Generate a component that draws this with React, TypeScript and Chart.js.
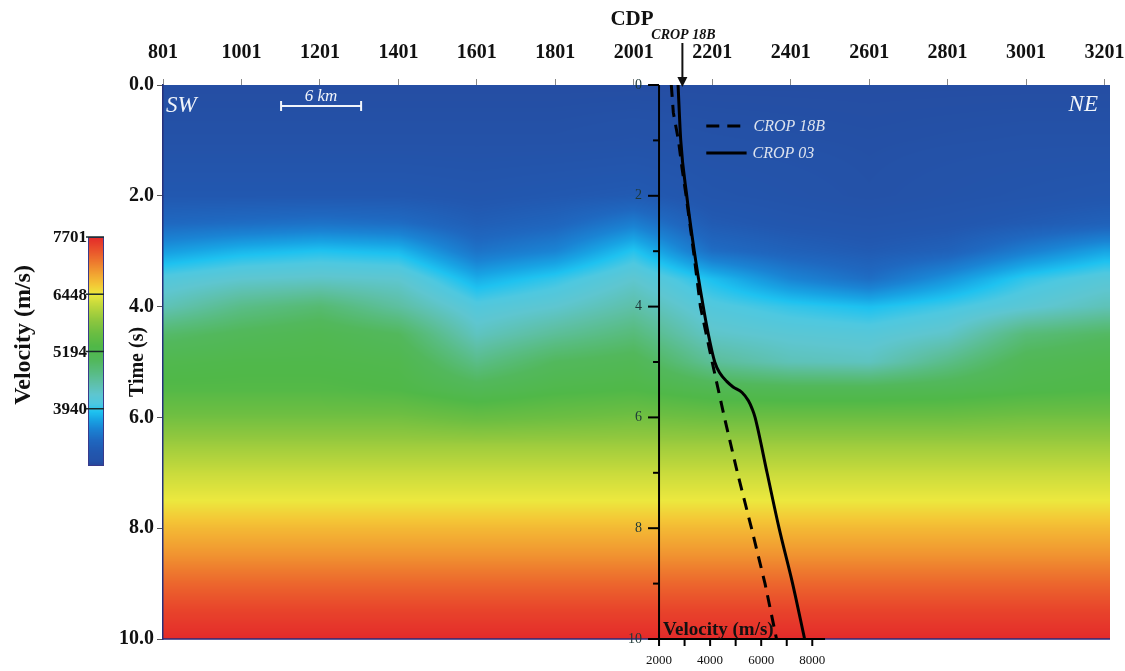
import React, { useEffect, useRef } from "react";
import { Chart, registerables } from "chart.js";

Chart.register(...registerables);

const SERIF = '"Liberation Serif", "DejaVu Serif", serif';

// ---- CDP / time axes ----
const CDP_TICKS = [801, 1001, 1201, 1401, 1601, 1801, 2001, 2201, 2401, 2601, 2801, 3001, 3201];
const CDP_MIN = 801;
const CDP_MAX = 3215;
const TIME_TICKS = [0, 2, 4, 6, 8, 10];

// ---- velocity field (m/s), one profile per CDP column, sampled at FIELD_TIMES (s) ----
const FIELD_TIMES = [0, 1, 2, 2.5, 3, 3.5, 4, 4.5, 5, 5.5, 6, 6.5, 7, 7.5, 8, 8.5, 9, 9.5, 10];
const FIELD_CDPS = [801, 1001, 1201, 1401, 1601, 1801, 2001, 2201, 2401, 2601, 2801, 3001, 3201];
const V_801 = [2760, 2800, 3000, 3250, 3650, 4100, 4400, 4900, 5200, 5350, 5650, 5980, 6250, 6450, 6750, 7000, 7280, 7520, 7700];
const V_1001 = [2760, 2800, 3000, 3300, 3800, 4250, 4700, 5050, 5250, 5350, 5650, 5980, 6250, 6450, 6750, 7000, 7280, 7520, 7700];
const V_1201 = [2760, 2800, 3000, 3350, 3880, 4300, 4850, 5150, 5250, 5350, 5650, 5980, 6250, 6450, 6750, 7000, 7280, 7520, 7700];
const V_1401 = [2760, 2800, 3000, 3300, 3820, 4250, 4550, 5000, 5200, 5300, 5650, 5980, 6250, 6450, 6750, 7000, 7280, 7520, 7700];
const V_1601 = [2760, 2800, 2950, 3100, 3350, 3750, 4100, 4350, 4700, 5100, 5550, 5980, 6250, 6450, 6750, 7000, 7280, 7520, 7700];
const V_1801 = [2760, 2800, 3000, 3200, 3500, 3950, 4250, 4600, 5000, 5250, 5600, 5980, 6250, 6450, 6750, 7000, 7280, 7520, 7700];
const V_2001 = [2760, 2820, 3050, 3450, 3900, 4250, 4500, 4800, 5100, 5300, 5650, 5980, 6250, 6450, 6750, 7000, 7280, 7520, 7700];
const V_2201 = [2760, 2800, 2900, 3050, 3300, 3850, 4100, 4300, 4600, 5150, 5600, 5980, 6250, 6450, 6750, 7000, 7280, 7520, 7700];
const V_2401 = [2760, 2790, 2850, 2950, 3150, 3500, 3950, 4200, 4400, 5100, 5600, 5980, 6250, 6450, 6750, 7000, 7280, 7520, 7700];
const V_2601 = [2760, 2780, 2800, 2900, 3050, 3300, 3850, 4150, 4350, 5100, 5600, 5980, 6250, 6450, 6750, 7000, 7280, 7520, 7700];
const V_2801 = [2760, 2790, 2850, 2950, 3150, 3600, 4000, 4300, 4700, 5150, 5600, 5980, 6250, 6450, 6750, 7000, 7280, 7520, 7700];
const V_3001 = [2760, 2800, 2900, 3050, 3450, 3950, 4200, 4800, 5100, 5250, 5650, 5980, 6250, 6450, 6750, 7000, 7280, 7520, 7700];
const V_3201 = [2760, 2800, 2950, 3150, 3700, 4150, 4400, 4950, 5200, 5300, 5650, 5980, 6250, 6450, 6750, 7000, 7280, 7520, 7700];
const FIELD = [V_801, V_1001, V_1201, V_1401, V_1601, V_1801, V_2001, V_2201, V_2401, V_2601, V_2801, V_3001, V_3201];

// ---- colour scale ----
const COLORBAR_MIN = 2686;
const COLORBAR_MAX = 7701;
const COLORBAR_TICKS = [3940, 5194, 6448, 7701];
const COLOR_STOPS_V = [2686, 2800, 3000, 3250, 3500, 3700, 3870, 4050, 4250, 4500, 4750, 5000, 5300, 5600, 5900, 6200, 6450, 6650, 6900, 7150, 7400, 7701];
const COLOR_STOPS_C = ["#26469a", "#2452a8", "#2258b0", "#1f68c0", "#1a84d4", "#18a4e4", "#1ec2f0", "#4ec8e0", "#5ec6d0", "#5ec0a8", "#58bc80", "#52b85c", "#50b848", "#6cbe42", "#92c83e", "#c0d83c", "#ece83e", "#f4c836", "#f2a232", "#ee7a2e", "#ea542c", "#e42a2a"];

// ---- velocity profiles (inset) ----
const T_18B = [0, 0.5, 1, 1.5, 2, 3, 4, 5, 6, 7, 8, 9, 10];
const V_18B = [2480, 2560, 2760, 2900, 3060, 3350, 3620, 4080, 4560, 5070, 5620, 6150, 6600];
const T_03 = [0, 1, 2, 3, 4, 4.5, 5, 5.2, 5.35, 5.45, 5.55, 5.7, 5.85, 6, 7, 8, 9, 10];
const V_03 = [2745, 2850, 3085, 3380, 3730, 3930, 4180, 4380, 4650, 4900, 5250, 5500, 5650, 5760, 6230, 6700, 7230, 7700];
const VEL_TICKS = [2000, 3000, 4000, 5000, 6000, 7000, 8000];
const VEL_LABELS = [2000, 4000, 6000, 8000];
const VEL_AXIS_MIN = 2000;
const VEL_AXIS_MAX = 8500;
const INSET_TIME_TICKS = [0, 1, 2, 3, 4, 5, 6, 7, 8, 9, 10];
const INSET_TIME_LABELS = [0, 2, 4, 6, 8, 10];

const CROP18B_CDP = 2125;
const SCALEBAR_CDP = [1102, 1306];

// inset placement inside the plot area (fractions of width)
const INSET_F0 = 0.5238;
const INSET_F1 = 0.6991;
const VEL_PER_AREA = (VEL_AXIS_MAX - VEL_AXIS_MIN) / (INSET_F1 - INSET_F0);
const XV_MIN = VEL_AXIS_MIN - INSET_F0 * VEL_PER_AREA;
const XV_MAX = XV_MIN + VEL_PER_AREA;

function hexToRgb(h: string) {
  return [parseInt(h.slice(1, 3), 16), parseInt(h.slice(3, 5), 16), parseInt(h.slice(5, 7), 16)];
}
const STOP_RGB = COLOR_STOPS_C.map(hexToRgb);
function colorFor(v: number) {
  if (v <= COLOR_STOPS_V[0]) return STOP_RGB[0];
  const n = COLOR_STOPS_V.length;
  if (v >= COLOR_STOPS_V[n - 1]) return STOP_RGB[n - 1];
  let k = 0;
  while (k < n - 2 && v > COLOR_STOPS_V[k + 1]) k++;
  const f = (v - COLOR_STOPS_V[k]) / (COLOR_STOPS_V[k + 1] - COLOR_STOPS_V[k]);
  const a = STOP_RGB[k], b = STOP_RGB[k + 1];
  return [a[0] + (b[0] - a[0]) * f, a[1] + (b[1] - a[1]) * f, a[2] + (b[2] - a[2]) * f];
}

function seg(arr: number[], v: number) {
  const n = arr.length;
  if (v <= arr[0]) return [0, 0];
  if (v >= arr[n - 1]) return [n - 2, 1];
  let k = 0;
  while (k < n - 2 && v > arr[k + 1]) k++;
  return [k, (v - arr[k]) / (arr[k + 1] - arr[k])];
}

const fieldPlugin = {
  id: "velocityField",
  beforeDraw(chart: any) {
    const { ctx, chartArea: a, scales } = chart;
    const xs = scales.x, ys = scales.y;
    const L = Math.round(a.left), T = Math.round(a.top);
    const w = Math.round(a.right) - L, h = Math.round(a.bottom) - T;
    const img = ctx.createImageData(w, h);
    const rk = new Int32Array(h), rf = new Float32Array(h);
    for (let j = 0; j < h; j++) {
      const t = ys.getValueForPixel(T + j + 0.5);
      const [k, f] = seg(FIELD_TIMES, t);
      rk[j] = k; rf[j] = f;
    }
    const nt = FIELD_TIMES.length;
    const prof = new Float32Array(nt);
    for (let i = 0; i < w; i++) {
      const c = xs.getValueForPixel(L + i + 0.5);
      const [m, f] = seg(FIELD_CDPS, c);
      for (let k = 0; k < nt; k++) prof[k] = FIELD[m][k] * (1 - f) + FIELD[m + 1][k] * f;
      for (let j = 0; j < h; j++) {
        const k = rk[j];
        const v = prof[k] * (1 - rf[j]) + prof[k + 1] * rf[j];
        const col = colorFor(v);
        const p = (j * w + i) * 4;
        img.data[p] = col[0]; img.data[p + 1] = col[1]; img.data[p + 2] = col[2]; img.data[p + 3] = 255;
      }
    }
    ctx.putImageData(img, L, T);

    // colour bar
    ctx.save();
    const cbTop = 237, cbBot = 466, cbL = 88, cbR = 104;
    for (let py = cbTop; py < cbBot; py++) {
      const v = COLORBAR_MAX - ((py + 0.5 - cbTop) / (cbBot - cbTop)) * (COLORBAR_MAX - COLORBAR_MIN);
      const c = colorFor(v);
      ctx.fillStyle = `rgb(${c[0] | 0},${c[1] | 0},${c[2] | 0})`;
      ctx.fillRect(cbL, py, cbR - cbL, 1);
    }
    ctx.strokeStyle = "#3a3a8a";
    ctx.lineWidth = 1;
    ctx.strokeRect(cbL + 0.5, cbTop + 0.5, cbR - cbL - 1, cbBot - cbTop - 1);
    ctx.font = `bold 17px ${SERIF}`;
    ctx.fillStyle = "#111";
    ctx.textAlign = "right";
    ctx.textBaseline = "middle";
    COLORBAR_TICKS.forEach((v) => {
      const py = cbTop + ((COLORBAR_MAX - v) / (COLORBAR_MAX - COLORBAR_MIN)) * (cbBot - cbTop);
      ctx.strokeStyle = "#1a2a2a";
      ctx.lineWidth = 1.5;
      ctx.beginPath();
      ctx.moveTo(cbL - 2, py);
      ctx.lineTo(cbR, py);
      ctx.stroke();
      ctx.fillText(String(v), cbL - 1, py + 1);
    });
    ctx.translate(24, 335);
    ctx.rotate(-Math.PI / 2);
    ctx.textAlign = "center";
    ctx.font = `bold 24px ${SERIF}`;
    ctx.fillText("Velocity (m/s)", 0, 0);
    ctx.restore();
  },
  beforeDatasetsDraw(chart: any) {
    const { ctx, chartArea: a, scales } = chart;
    const xv = scales.xv, ys = scales.y, xs = scales.x;
    ctx.save();
    // bottom border of the section
    ctx.strokeStyle = "#2a2a7a";
    ctx.lineWidth = 1.5;
    ctx.beginPath();
    ctx.moveTo(a.left, a.bottom);
    ctx.lineTo(a.right, a.bottom);
    ctx.stroke();

    const x0 = xv.getPixelForValue(VEL_AXIS_MIN);
    const yTop = ys.getPixelForValue(0), yBot = ys.getPixelForValue(10);
    ctx.strokeStyle = "#000";
    ctx.lineWidth = 2;
    ctx.beginPath();
    ctx.moveTo(x0, yTop);
    ctx.lineTo(x0, yBot);
    ctx.stroke();
    ctx.font = `14px ${SERIF}`;
    ctx.fillStyle = "#1e3838";
    ctx.textAlign = "right";
    ctx.textBaseline = "middle";
    INSET_TIME_TICKS.forEach((t) => {
      const py = ys.getPixelForValue(t);
      const major = INSET_TIME_LABELS.includes(t);
      ctx.beginPath();
      ctx.moveTo(x0 - (major ? 11 : 6), py);
      ctx.lineTo(x0, py);
      ctx.stroke();
      if (major) ctx.fillText(String(t), x0 - 17, py);
    });
    // velocity axis
    const x1 = xv.getPixelForValue(VEL_AXIS_MAX);
    ctx.beginPath();
    ctx.moveTo(x0, yBot);
    ctx.lineTo(x1, yBot);
    ctx.stroke();
    ctx.fillStyle = "#111";
    ctx.textAlign = "center";
    ctx.font = `13px ${SERIF}`;
    VEL_TICKS.forEach((v) => {
      const px = xv.getPixelForValue(v);
      ctx.beginPath();
      ctx.moveTo(px, yBot);
      ctx.lineTo(px, yBot + 7);
      ctx.stroke();
      if (VEL_LABELS.includes(v)) ctx.fillText(String(v), px, yBot + 22);
    });
    ctx.font = `bold 19px ${SERIF}`;
    ctx.textAlign = "left";
    ctx.textBaseline = "alphabetic";
    ctx.fillText("Velocity (m/s)", x0 + 4, yBot - 4);

    // legend
    const lx0 = xv.getPixelForValue(3850), lx1 = xv.getPixelForValue(5350);
    ctx.lineWidth = 3;
    ctx.setLineDash([13, 8]);
    ctx.beginPath();
    ctx.moveTo(lx0, 126);
    ctx.lineTo(lx1, 126);
    ctx.stroke();
    ctx.setLineDash([]);
    ctx.beginPath();
    ctx.moveTo(lx0, 153);
    ctx.lineTo(lx1 + 2, 153);
    ctx.stroke();
    ctx.font = `italic 16px ${SERIF}`;
    ctx.fillStyle = "#dde3ee";
    ctx.textBaseline = "middle";
    ctx.fillText("CROP 18B", lx1 + 9, 127);
    ctx.fillText("CROP 03", lx1 + 8, 154);

    // SW / NE labels and scale bar
    ctx.fillStyle = "#f0f4fa";
    ctx.font = `italic 23px ${SERIF}`;
    ctx.textAlign = "left";
    ctx.fillText("SW", a.left + 3, 106);
    ctx.textAlign = "right";
    ctx.fillText("NE", a.right - 12, 105);
    const s0 = xs.getPixelForValue(SCALEBAR_CDP[0]), s1 = xs.getPixelForValue(SCALEBAR_CDP[1]);
    ctx.strokeStyle = "#f0f4fa";
    ctx.lineWidth = 2;
    ctx.beginPath();
    ctx.moveTo(s0, 106); ctx.lineTo(s1, 106);
    ctx.moveTo(s0, 101); ctx.lineTo(s0, 111);
    ctx.moveTo(s1, 101); ctx.lineTo(s1, 111);
    ctx.stroke();
    ctx.textAlign = "center";
    ctx.font = `italic 17px ${SERIF}`;
    ctx.fillText("6 km", (s0 + s1) / 2, 97);
    ctx.restore();
  },
  afterDraw(chart: any) {
    const { ctx, scales } = chart;
    const xs = scales.x;
    ctx.save();
    ctx.fillStyle = "#111";
    ctx.textAlign = "center";
    ctx.textBaseline = "middle";
    ctx.font = `bold 21px ${SERIF}`;
    ctx.fillText("CDP", 632, 20);
    const ax = xs.getPixelForValue(CROP18B_CDP);
    ctx.font = `italic bold 14px ${SERIF}`;
    ctx.fillText("CROP 18B", ax + 1, 35);
    ctx.strokeStyle = "#111";
    ctx.lineWidth = 2;
    ctx.beginPath();
    ctx.moveTo(ax, 43);
    ctx.lineTo(ax, 80);
    ctx.stroke();
    ctx.beginPath();
    ctx.moveTo(ax - 5, 77);
    ctx.lineTo(ax + 5, 77);
    ctx.lineTo(ax, 87);
    ctx.closePath();
    ctx.fill();
    ctx.restore();
  },
};

export default function App() {
  const ref = useRef<HTMLCanvasElement | null>(null);
  useEffect(() => {
    document.body.style.margin = "0";
    const canvas = ref.current;
    if (!canvas) return;
    const chart = new Chart(canvas, {
      type: "line",
      data: {
        datasets: [
          {
            label: "CROP 18B",
            data: T_18B.map((t, i) => ({ x: V_18B[i], y: t })),
            xAxisID: "xv",
            yAxisID: "y",
            borderColor: "#000",
            borderWidth: 3,
            borderDash: [12, 8],
            pointRadius: 0,
            tension: 0,
            fill: false,
          },
          {
            label: "CROP 03",
            data: T_03.map((t, i) => ({ x: V_03[i], y: t })),
            xAxisID: "xv",
            yAxisID: "y",
            borderColor: "#000",
            borderWidth: 3,
            pointRadius: 0,
            cubicInterpolationMode: "monotone",
            fill: false,
          },
        ],
      },
      options: {
        animation: false,
        responsive: false,
        devicePixelRatio: 1,
        layout: { padding: { left: 110, top: 0, right: 15, bottom: 32 } },
        plugins: { legend: { display: false }, tooltip: { enabled: false } },
        scales: {
          x: {
            type: "linear",
            position: "top",
            min: CDP_MIN,
            max: CDP_MAX,
            afterBuildTicks: (s: any) => {
              s.ticks = CDP_TICKS.map((v) => ({ value: v }));
            },
            afterFit: (s: any) => {
              s.height = 85;
              s.paddingLeft = 0;
              s.paddingRight = 0;
            },
            ticks: {
              autoSkip: false,
              maxRotation: 0,
              padding: 14,
              color: "#111",
              font: { family: SERIF, size: 20, weight: "bold" },
              callback: (v: any) => String(v),
            },
            grid: { drawOnChartArea: false, drawTicks: true, tickLength: 6, color: "#888" },
            border: { display: false },
          },
          y: {
            type: "linear",
            position: "left",
            reverse: true,
            min: 0,
            max: 10,
            afterBuildTicks: (s: any) => {
              s.ticks = TIME_TICKS.map((v) => ({ value: v }));
            },
            afterFit: (s: any) => {
              s.width = 53;
              s.paddingTop = 0;
              s.paddingBottom = 0;
            },
            ticks: {
              autoSkip: false,
              padding: 3,
              color: "#111",
              font: { family: SERIF, size: 20, weight: "bold" },
              callback: (v: any) => Number(v).toFixed(1),
            },
            grid: { drawOnChartArea: false, drawTicks: true, tickLength: 6, color: "#555" },
            border: { display: true, color: "#26307a", width: 1.5 },
            title: {
              display: true,
              text: "Time (s)",
              color: "#111",
              padding: { top: 16, bottom: 0 },
              font: { family: SERIF, size: 20, weight: "bold" },
            },
          },
          xv: { type: "linear", display: false, min: XV_MIN, max: XV_MAX },
        },
      },
      plugins: [fieldPlugin],
    } as any);
    return () => chart.destroy();
  }, []);
  return (
    <div style={{ position: "relative", width: 1125, height: 671 }}>
      <canvas ref={ref} width={1125} height={671} style={{ display: "block" }} />
    </div>
  );
}
